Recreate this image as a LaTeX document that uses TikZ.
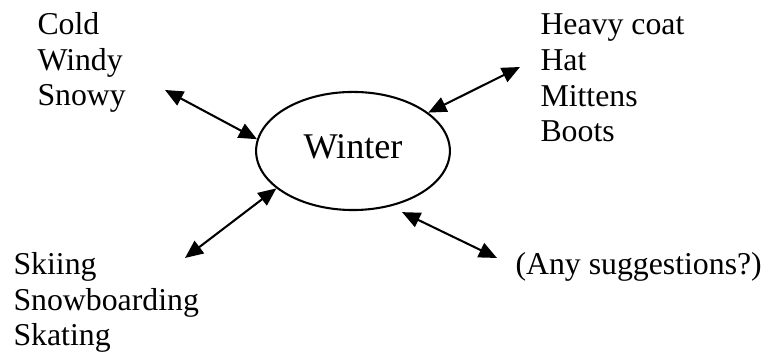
\documentclass[tikz,border=0pt]{standalone}
\usepackage{fontspec}
\setmainfont{Liberation Serif}
\usetikzlibrary{arrows.meta,shapes.geometric}

\begin{document}
\begin{tikzpicture}[x=0.387pt, y=-0.387pt,
  every node/.style={inner sep=0pt, font=\fontsize{12.3}{13.9}\selectfont},
  itemlist/.style={align=left, anchor=base west},
  hub/.style={draw, ellipse, line width=0.8pt, minimum width=75pt, minimum height=45.7pt,
    font=\fontsize{14}{17}\selectfont, text height=9.5pt, text depth=4pt},
  twoway/.style={{Triangle[length=7pt,width=6pt]}-{Triangle[length=7pt,width=6pt]}, line width=0.8pt}]
  \useasboundingbox (0,0) rectangle (766,356);
  \node [hub] (winter) at (353,151) {Winter};
  \node [itemlist] (weather) at (37,106) {Cold\\Windy\\Snowy};
  \node [itemlist] (clothes) at (540,142) {Heavy coat\\Hat\\Mittens\\Boots};
  \node [itemlist] (sports) at (13,346) {Skiing\\Snowboarding\\Skating};
  \node [itemlist] (ideas) at (515,275) {(Any suggestions?)};
  \coordinate (weather-end) at (165,90);
  \coordinate (clothes-end) at (520,67);
  \coordinate (sports-end) at (185,258);
  \coordinate (ideas-end) at (497,258);
  \draw [twoway] (weather-end) -- (winter.173);
  \draw [twoway] (clothes-end) -- (winter.27.5);
  \draw [twoway] (sports-end) -- (winter.206.7);
  \draw [twoway, shorten >=5pt] (ideas-end) -- (winter.-56);
\end{tikzpicture}
\end{document}
